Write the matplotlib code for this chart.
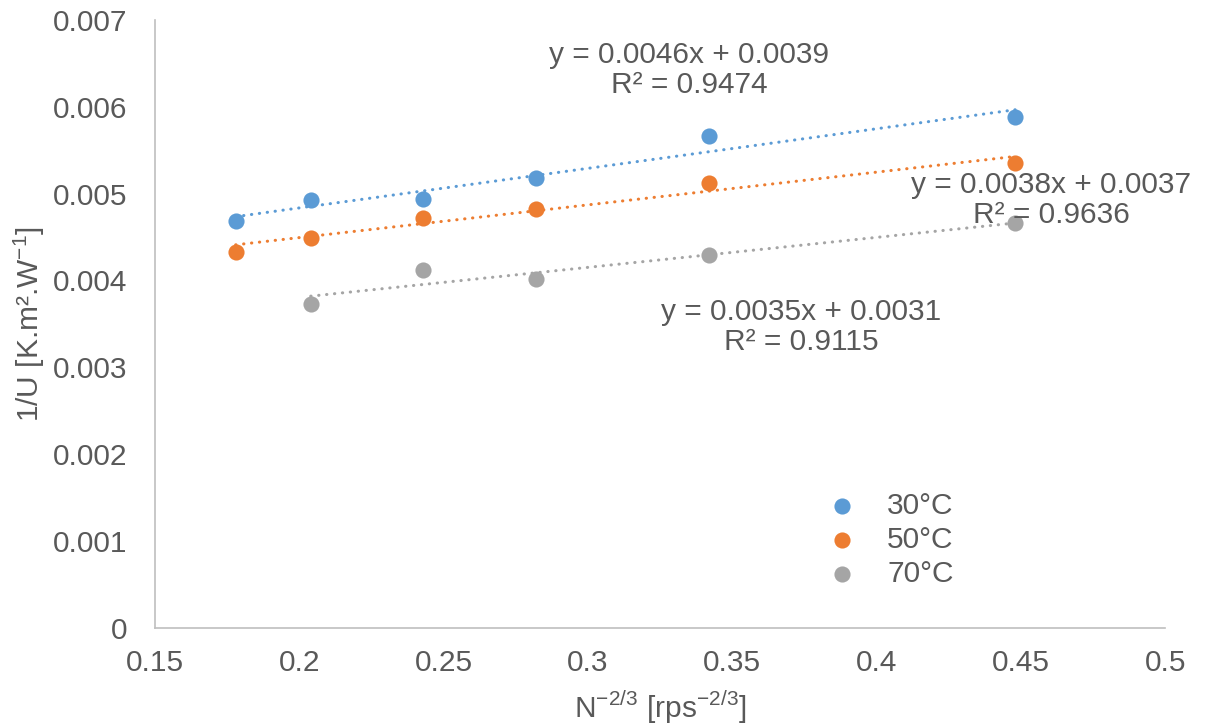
import numpy as np
import matplotlib
matplotlib.use('Agg')
import matplotlib.pyplot as plt

plt.rcParams['font.family'] = ['Liberation Sans', 'DejaVu Sans']
plt.rcParams['mathtext.fontset'] = 'custom'
plt.rcParams['mathtext.rm'] = 'Liberation Sans'

# data
x_all = [0.178, 0.204, 0.243, 0.282, 0.342, 0.448]
y_30 = [0.00468, 0.00493, 0.00494, 0.00518, 0.00566, 0.00588]
y_50 = [0.00433, 0.00449, 0.00472, 0.00482, 0.00512, 0.00535]
x_70 = [0.204, 0.243, 0.282, 0.342, 0.448]
y_70 = [0.00373, 0.00412, 0.00402, 0.00429, 0.00466]

labels = ['30°C', '50°C', '70°C']
colors = ['#5B9BD5', '#ED7D31', '#A5A5A5']
eq_texts = ['y = 0.0046x + 0.0039\nR² = 0.9474',
            'y = 0.0038x + 0.0037\nR² = 0.9636',
            'y = 0.0035x + 0.0031\nR² = 0.9115']
eq_pos = [(0.335, 0.00642), (0.4605, 0.004925), (0.3738, 0.003464)]

text_col = '#595959'
fs = 21.5

fig = plt.figure(figsize=(12.1, 7.28), dpi=100)
ax = fig.add_axes([0.128, 0.137, 0.835, 0.836])

series = [(x_all, y_30), (x_all, y_50), (x_70, y_70)]
for (xs, ys), lab, c in zip(series, labels, colors):
    ax.scatter(xs, ys, s=135, color=c, label=lab, zorder=3, linewidths=0)
    k, b = np.polyfit(xs, ys, 1)
    xl = np.array([min(xs), max(xs)])
    ax.plot(xl, k * xl + b, color=c, lw=2.2, linestyle=(0, (0.1, 2.5)),
            dash_capstyle='round', zorder=2)

for t, (tx, ty) in zip(eq_texts, eq_pos):
    ax.text(tx, ty, t, ha='center', va='center', multialignment='center',
            fontsize=fs, color=text_col, linespacing=1.08, zorder=4)

ax.set_xlim(0.15, 0.5)
ax.set_ylim(0, 0.007)
ax.set_xticks(np.arange(0.15, 0.501, 0.05))
ax.set_xticklabels(['0.15', '0.2', '0.25', '0.3', '0.35', '0.4', '0.45', '0.5'])
ax.set_yticks(np.arange(0, 0.0071, 0.001))
ax.set_yticklabels(['0', '0.001', '0.002', '0.003', '0.004', '0.005', '0.006', '0.007'])
ax.tick_params(length=0, labelsize=fs, labelcolor=text_col)
ax.tick_params(axis='x', pad=15)
ax.tick_params(axis='y', pad=20)

for s in ['top', 'right']:
    ax.spines[s].set_visible(False)
for s in ['left', 'bottom']:
    ax.spines[s].set_color('#BFBFBF')
    ax.spines[s].set_linewidth(1.2)

ax.set_xlabel('N$^{-2/3}$ [rps$^{-2/3}$]', fontsize=fs, color=text_col, labelpad=8)
ax.set_ylabel('1/U [K.m².W$^{-1}$]', fontsize=fs, color=text_col, labelpad=4)

leg = ax.legend(loc='center left', bbox_to_anchor=(0.636, 0.145), frameon=False,
                fontsize=fs, handletextpad=0.5, labelspacing=0.2, scatterpoints=1,
                borderpad=0)
for t in leg.get_texts():
    t.set_color(text_col)

fig.savefig('out.png', dpi=100)
